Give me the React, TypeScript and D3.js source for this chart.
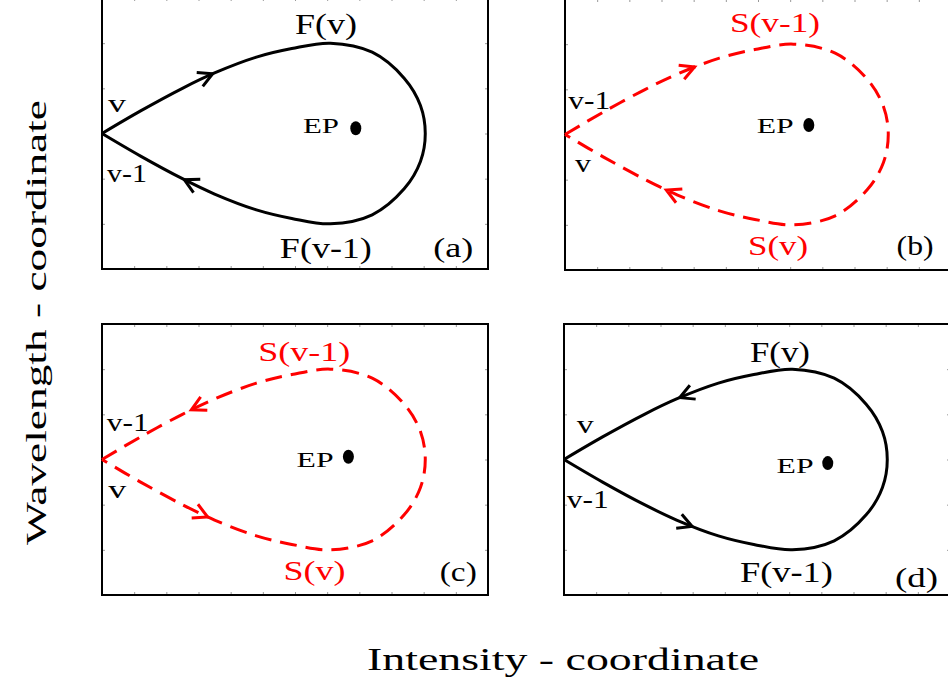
import React, { useEffect, useRef } from 'react';
import * as d3 from 'd3';

const W = 948;
const H = 694;

// teardrop loop, same shape in every panel (panel units: x 0..12, y 0..6)
const loopX = [0, 1.2, 2.5, 3.5, 4.8, 5.9, 7.1, 8.4, 9.4, 9.9, 10.05, 9.9, 9.4, 8.4, 7.1, 5.9, 4.8, 3.5, 2.5, 1.2, 0];
const loopY = [3, 3.5, 4.0, 4.34, 4.69, 4.88, 5.0, 4.8, 4.22, 3.62, 3.0, 2.38, 1.78, 1.2, 1.0, 1.12, 1.31, 1.66, 2.0, 2.5, 3];

const panelDashed = [false, true, true, false];
// EP point in each panel
const epX = [7.89, 7.58, 7.66, 8.2];
const epY = [3.115, 3.21, 3.06, 2.92];
// arrow tips as fraction of the loop length; +1 = along the loop, -1 = against it
const arrowPos = [[0.16, 0.88], [0.186, 0.853], [0.13, 0.847], [0.167, 0.816]];
const arrowDir = [1, 1, -1, -1];

// labels: text, x, y (panel units, left / baseline), kind, width
const labelsA = [
  ['F(v)', 6.0, 5.214, 'big', 62],
  ['F(v-1)', 5.53, 0.237, 'big', 92],
  ['v', 0.19, 3.483, 'small', 18],
  ['v-1', 0.155, 1.933, 'small', 40],
  ['EP', 6.25, 3.005, 'ep', 36],
  ['(a)', 10.3, 0.273, 'tag', 40],
];
const labelsB = [
  ['S(v-1)', 5.13, 5.263, 'bigRed', 90],
  ['S(v)', 5.69, 0.333, 'bigRed', 60],
  ['v-1', 0.1, 3.558, 'small', 42],
  ['v', 0.31, 2.177, 'small', 16],
  ['EP', 5.96, 3.027, 'ep', 37],
  ['(b)', 10.31, 0.333, 'tag', 37],
];
const labelsC = [
  ['S(v-1)', 4.86, 5.181, 'bigRed', 92],
  ['S(v)', 5.64, 0.333, 'bigRed', 62],
  ['v-1', 0.146, 3.638, 'small', 42],
  ['v', 0.196, 2.141, 'small', 18],
  ['EP', 6.05, 2.841, 'ep', 37],
  ['(c)', 10.5, 0.318, 'tag', 37],
];
const labelsD = [
  ['F(v)', 5.78, 5.165, 'big', 60],
  ['F(v-1)', 5.47, 0.295, 'big', 93],
  ['v', 0.395, 3.58, 'small', 17],
  ['v-1', 0.084, 1.92, 'small', 42],
  ['EP', 6.61, 2.708, 'ep', 37],
  ['(d)', 10.29, 0.178, 'tag', 43],
];
const panelLabels = [labelsA, labelsB, labelsC, labelsD];

const xLabel = 'Intensity - coordinate';
const yLabel = 'Wavelength - coordinate';

const FONT = "'Liberation Serif', Tinos, 'Times New Roman', Times, 'DejaVu Serif', serif";

const App = () => {
  const ref = useRef<SVGSVGElement | null>(null);

  useEffect(() => {
    const svg = d3.select(ref.current);
    svg.selectAll('*').remove();
    svg.append('rect').attr('width', W).attr('height', H).attr('fill', '#fff');

    const lefts = [102, 565, 102, 564];
    const tops = [-2, -1, 324, 324];
    const pw = 386;
    const ph = 271;
    const fontSizes = { big: 29, bigRed: 28, small: 26, ep: 20, tag: 27 };

    panelLabels.forEach((labels, i) => {
      const x = d3.scaleLinear().domain([0, 12]).range([lefts[i], lefts[i] + pw]);
      const y = d3.scaleLinear().domain([0, 6]).range([tops[i] + ph, tops[i]]);
      const g = svg.append('g');
      const color = panelDashed[i] ? '#ff0000' : '#000';

      // faint inner ticks on all four sides
      const ticks = (axis, tr) =>
        g.append('g').attr('transform', tr).call(axis).call((s) => {
          s.select('.domain').remove();
          s.selectAll('text').remove();
          s.selectAll('line').attr('stroke', '#999').attr('stroke-width', 1);
        });
      const xt = d3.range(1, 12);
      const yt = d3.range(1, 6);
      ticks(d3.axisBottom(x).tickValues(xt).tickSizeInner(-3).tickSizeOuter(0), `translate(0,${y(0)})`);
      ticks(d3.axisTop(x).tickValues(xt).tickSizeInner(-3).tickSizeOuter(0), `translate(0,${y(6)})`);
      ticks(d3.axisLeft(y).tickValues(yt).tickSizeInner(-3).tickSizeOuter(0), `translate(${x(0)},0)`);
      ticks(d3.axisRight(y).tickValues(yt).tickSizeInner(-3).tickSizeOuter(0), `translate(${x(12)},0)`);

      // frame
      g.append('rect')
        .attr('x', x(0)).attr('y', y(6))
        .attr('width', x(12) - x(0)).attr('height', y(0) - y(6))
        .attr('fill', 'none').attr('stroke', '#000').attr('stroke-width', 2);

      // loop
      const line = d3.line()
        .x((d) => x(d[0]))
        .y((d) => y(d[1]))
        .curve(d3.curveCatmullRom.alpha(0.5));
      const pts = loopX.map((v, k) => [v, loopY[k]]);
      const path = g.append('path')
        .attr('d', line(pts))
        .attr('fill', 'none')
        .attr('stroke', color)
        .attr('stroke-width', 3)
        .attr('stroke-dasharray', panelDashed[i] ? '17,9' : null);

      // open arrow heads
      const node = path.node();
      const L = node.getTotalLength();
      arrowPos[i].forEach((f) => {
        const dir = arrowDir[i];
        const tip = node.getPointAtLength(L * f);
        const back = node.getPointAtLength(L * f - 4 * dir);
        const ang = Math.atan2(tip.y - back.y, tip.x - back.x);
        const arm = 16;
        const half = (28 * Math.PI) / 180;
        const a1 = ang + Math.PI - half;
        const a2 = ang + Math.PI + half;
        g.append('path')
          .attr('d', `M${tip.x + arm * Math.cos(a1)},${tip.y + arm * Math.sin(a1)}L${tip.x},${tip.y}L${tip.x + arm * Math.cos(a2)},${tip.y + arm * Math.sin(a2)}`)
          .attr('fill', 'none')
          .attr('stroke', color)
          .attr('stroke-width', 3);
      });

      // EP dot
      g.append('ellipse')
        .attr('cx', x(epX[i])).attr('cy', y(epY[i]))
        .attr('rx', 5.5).attr('ry', 7)
        .attr('fill', '#000');

      // labels
      labels.forEach(([t, lx, ly, kind, w]) => {
        g.append('text')
          .attr('x', x(lx)).attr('y', y(ly))
          .style('font-family', FONT)
          .attr('font-size', fontSizes[kind])
          .attr('fill', kind === 'bigRed' ? '#ff0000' : '#000')
          .attr('textLength', w)
          .attr('lengthAdjust', 'spacingAndGlyphs')
          .text(t);
      });
    });

    // axis titles
    svg.append('text')
      .attr('x', 367).attr('y', 670)
      .style('font-family', FONT).attr('font-size', 31)
      .attr('textLength', 392).attr('lengthAdjust', 'spacingAndGlyphs')
      .text(xLabel);
    svg.append('text')
      .attr('transform', 'translate(46,545) rotate(-90)')
      .style('font-family', FONT).attr('font-size', 29)
      .attr('textLength', 445).attr('lengthAdjust', 'spacingAndGlyphs')
      .text(yLabel);
  }, []);

  return (
    <svg
      ref={ref}
      width={W}
      height={H}
      style={{ position: 'absolute', left: 0, top: 0, display: 'block' }}
    />
  );
};

export default App;
